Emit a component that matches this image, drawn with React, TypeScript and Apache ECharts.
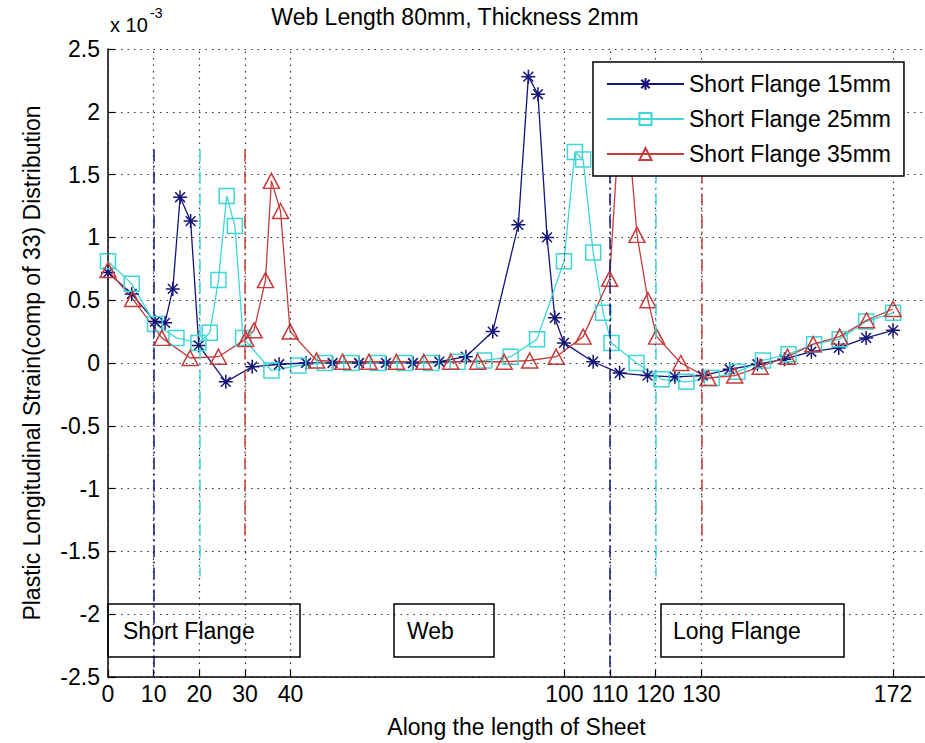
import React, { useEffect, useRef } from "react";
import * as echarts from "echarts";

// ---- Data (strain values are in units of 1e-3) ----
const x15 = [0, 5.2, 10.3, 12.5, 14.2, 15.8, 18.1, 19.9, 25.8, 31.6, 37.5, 43.4, 49.2, 55.0, 60.9, 66.8, 72.6, 78.4, 84.3, 89.9, 92.1, 94.2, 96.2, 97.9, 99.9, 106.3, 112.1, 118.2, 124.2, 130.3, 136.2, 142.3, 148.2, 154.1, 160.1, 166.1, 172];
const y15 = [0.72, 0.55, 0.33, 0.32, 0.59, 1.32, 1.13, 0.14, -0.15, -0.03, -0.01, 0, 0, 0, 0, 0, 0.01, 0.05, 0.25, 1.1, 2.28, 2.14, 1.0, 0.36, 0.16, 0.01, -0.08, -0.1, -0.11, -0.1, -0.05, -0.01, 0.03, 0.09, 0.12, 0.2, 0.26];

const x25 = [0, 5.2, 10.3, 15.0, 19.8, 22.3, 24.2, 26.0, 27.8, 29.6, 35.8, 41.7, 47.5, 53.3, 59.1, 65.0, 70.8, 76.6, 82.4, 88.2, 94.0, 99.9, 102.3, 104.1, 106.3, 108.5, 110.3, 115.8, 121.3, 126.7, 132.3, 137.9, 143.5, 149.1, 154.7, 160.3, 166.1, 172];
const y25 = [0.81, 0.63, 0.31, 0.2, 0.16, 0.24, 0.66, 1.33, 1.09, 0.2, -0.06, -0.02, 0, 0, 0, 0, 0, 0.01, 0.02, 0.05, 0.19, 0.81, 1.68, 1.62, 0.88, 0.4, 0.16, 0, -0.13, -0.15, -0.12, -0.07, 0.02, 0.07, 0.15, 0.19, 0.33, 0.4];

const x35 = [0, 5.4, 11.8, 18.0, 24.2, 30.2, 32.0, 34.5, 35.8, 37.8, 39.9, 45.7, 51.4, 57.2, 63.2, 69.2, 75.1, 81.0, 86.8, 92.4, 98.2, 104.1, 109.9, 112.1, 114.0, 115.9, 118.3, 120.2, 125.5, 131.5, 137.3, 142.9, 148.9, 154.5, 160.3, 166.2, 172];
const y35 = [0.74, 0.51, 0.2, 0.04, 0.05, 0.19, 0.26, 0.66, 1.45, 1.21, 0.25, 0.02, 0.01, 0.01, 0.01, 0.01, 0.01, 0.01, 0.01, 0.02, 0.05, 0.21, 0.67, 1.95, 1.85, 1.02, 0.5, 0.21, 0, -0.12, -0.1, -0.03, 0.05, 0.15, 0.21, 0.34, 0.43];

const seriesNames = ["Short Flange 15mm", "Short Flange 25mm", "Short Flange 35mm"];
const xTicks = [0, 10, 20, 30, 40, 100, 110, 120, 130, 172];

// boundary dash-dot lines: position, top, bottom (series index for colour)
const boundaryX = [10, 20, 30, 110, 120, 130];
const boundaryTop = [1.7, 1.7, 1.7, 1.7, 1.7, 1.7];
const boundaryBottom = [-2.5, -1.7, -1.45, -2.5, -1.7, -1.45];
const boundarySeries = [0, 1, 2, 0, 1, 2];

const regionLabels = ["Short Flange", "Web", "Long Flange"];

const NAVY = "#14147a";
const CYAN = "#3fd6d6";
const RED = "#c43c3c";
const COLORS = [NAVY, CYAN, RED];
const FONT = "'Liberation Sans', Arial, Helvetica, sans-serif";

const STAR = "path://M10,0 L10,20 M0,10 L20,10 M3,3 L17,17 M3,17 L17,3";

export default function App() {
  const ref = useRef<HTMLDivElement>(null);

  useEffect(() => {
    if (!ref.current) return;
    const chart = echarts.init(ref.current, null, { renderer: "svg" });

    const toPairs = (xs: number[], ys: number[]) => xs.map((x, i) => [x, ys[i]]);

    const gridStyle = { type: [1.5, 5] as any, color: "#333", width: 1.2 };

    const boundaryData = boundaryX.map((bx, i) => [
      {
        coord: [bx, boundaryTop[i]],
        lineStyle: { color: COLORS[boundarySeries[i]], type: [12, 4, 2, 4], width: 1.5 },
      },
      { coord: [bx, boundaryBottom[i]] },
    ]);

    const boxes = [
      { x: 108, w: 192, tx: 123 },
      { x: 394, w: 100, tx: 407 },
      { x: 661, w: 183, tx: 673 },
    ];

    const graphics: any[] = [
      {
        type: "text",
        x: 455,
        y: 17,
        style: { text: "Web Length 80mm, Thickness 2mm", fontSize: 23, fontFamily: FONT, fill: "#000", align: "center", verticalAlign: "middle" },
      },
      {
        type: "text",
        x: 110,
        y: 25,
        style: { text: "x 10", fontSize: 20, fontFamily: FONT, fill: "#000", align: "left", verticalAlign: "middle" },
      },
      {
        type: "text",
        x: 150,
        y: 13,
        style: { text: "-3", fontSize: 14, fontFamily: FONT, fill: "#000", align: "left", verticalAlign: "middle" },
      },
    ];
    boxes.forEach((b, i) => {
      graphics.push({
        type: "rect",
        shape: { x: b.x, y: 604, width: b.w, height: 53 },
        style: { fill: "none", stroke: "#000", lineWidth: 1.5 },
        z: 10,
      });
      graphics.push({
        type: "text",
        x: b.tx,
        y: 631,
        style: { text: regionLabels[i], fontSize: 23, fontFamily: FONT, fill: "#000", align: "left", verticalAlign: "middle" },
        z: 10,
      });
    });

    const option: any = {
      animation: false,
      backgroundColor: "#fff",
      grid: { left: 108, right: 0, top: 49, bottom: 66, containLabel: false },
      legend: {
        left: 593,
        top: 62,
        orient: "vertical",
        itemWidth: 77,
        itemHeight: 15,
        itemGap: 11,
        padding: [10, 13, 10, 13],
        borderColor: "#000",
        borderWidth: 1.5,
        borderRadius: 0,
        backgroundColor: "#fff",
        textStyle: { fontSize: 23, fontFamily: FONT, color: "#000", lineHeight: 24 },
        data: seriesNames,
        z: 20,
      },
      xAxis: {
        type: "value",
        min: 0,
        max: 179,
        axisLine: { show: true, onZero: false, lineStyle: { color: "#000", width: 1.5 } },
        axisTick: { show: true, inside: true, length: 7, customValues: xTicks, lineStyle: { color: "#000", width: 1.2 } },
        axisLabel: { customValues: xTicks, fontSize: 23, fontFamily: FONT, color: "#000", margin: 5 },
        splitLine: { show: false },
        name: "Along the length of Sheet",
        nameLocation: "middle",
        nameGap: 38,
        nameTextStyle: { fontSize: 23, fontFamily: FONT, color: "#000" },
      },
      yAxis: {
        type: "value",
        min: -2.5,
        max: 2.5,
        interval: 0.5,
        axisLine: { show: true, onZero: false, lineStyle: { color: "#000", width: 1.5 } },
        axisTick: { show: true, inside: true, length: 7, lineStyle: { color: "#000", width: 1.2 } },
        axisLabel: { fontSize: 23, fontFamily: FONT, color: "#000", margin: 8 },
        splitLine: { show: true, lineStyle: gridStyle },
        name: "Plastic Longitudinal Strain(comp of 33) Distribution",
        nameLocation: "middle",
        nameGap: 65,
        nameTextStyle: { fontSize: 23, fontFamily: FONT, color: "#000" },
      },
      graphic: graphics,
      series: [
        {
          name: "__grid",
          type: "line",
          data: [],
          silent: true,
          z: 1,
          markLine: {
            silent: true,
            symbol: ["none", "none"],
            label: { show: false },
            lineStyle: gridStyle,
            data: xTicks.map((v) => ({ xAxis: v })),
          },
        },
        {
          name: "__bounds",
          type: "line",
          data: [],
          silent: true,
          z: 1,
          markLine: {
            silent: true,
            symbol: ["none", "none"],
            label: { show: false },
            data: boundaryData,
          },
        },
        {
          name: seriesNames[0],
          type: "line",
          data: toPairs(x15, y15),
          symbol: STAR,
          symbolSize: 14,
          showAllSymbol: true,
          lineStyle: { color: NAVY, width: 1.3 },
          itemStyle: { color: NAVY, borderColor: NAVY, borderWidth: 1.5 },
          z: 3,
        },
        {
          name: seriesNames[1],
          type: "line",
          data: toPairs(x25, y25),
          symbol: "rect",
          symbolSize: 15,
          showAllSymbol: true,
          lineStyle: { color: CYAN, width: 1.3 },
          itemStyle: { color: "rgba(255,255,255,0)", borderColor: CYAN, borderWidth: 1.5 },
          z: 3,
        },
        {
          name: seriesNames[2],
          type: "line",
          data: toPairs(x35, y35),
          symbol: "triangle",
          symbolSize: [16, 15],
          showAllSymbol: true,
          lineStyle: { color: RED, width: 1.3 },
          itemStyle: { color: "rgba(255,255,255,0)", borderColor: RED, borderWidth: 1.5 },
          z: 3,
        },
      ],
    };

    chart.setOption(option);
    return () => chart.dispose();
  }, []);

  return (
    <div
      ref={ref}
      style={{ position: "fixed", left: 0, top: 0, width: 925, height: 743, background: "#fff" }}
    />
  );
}
